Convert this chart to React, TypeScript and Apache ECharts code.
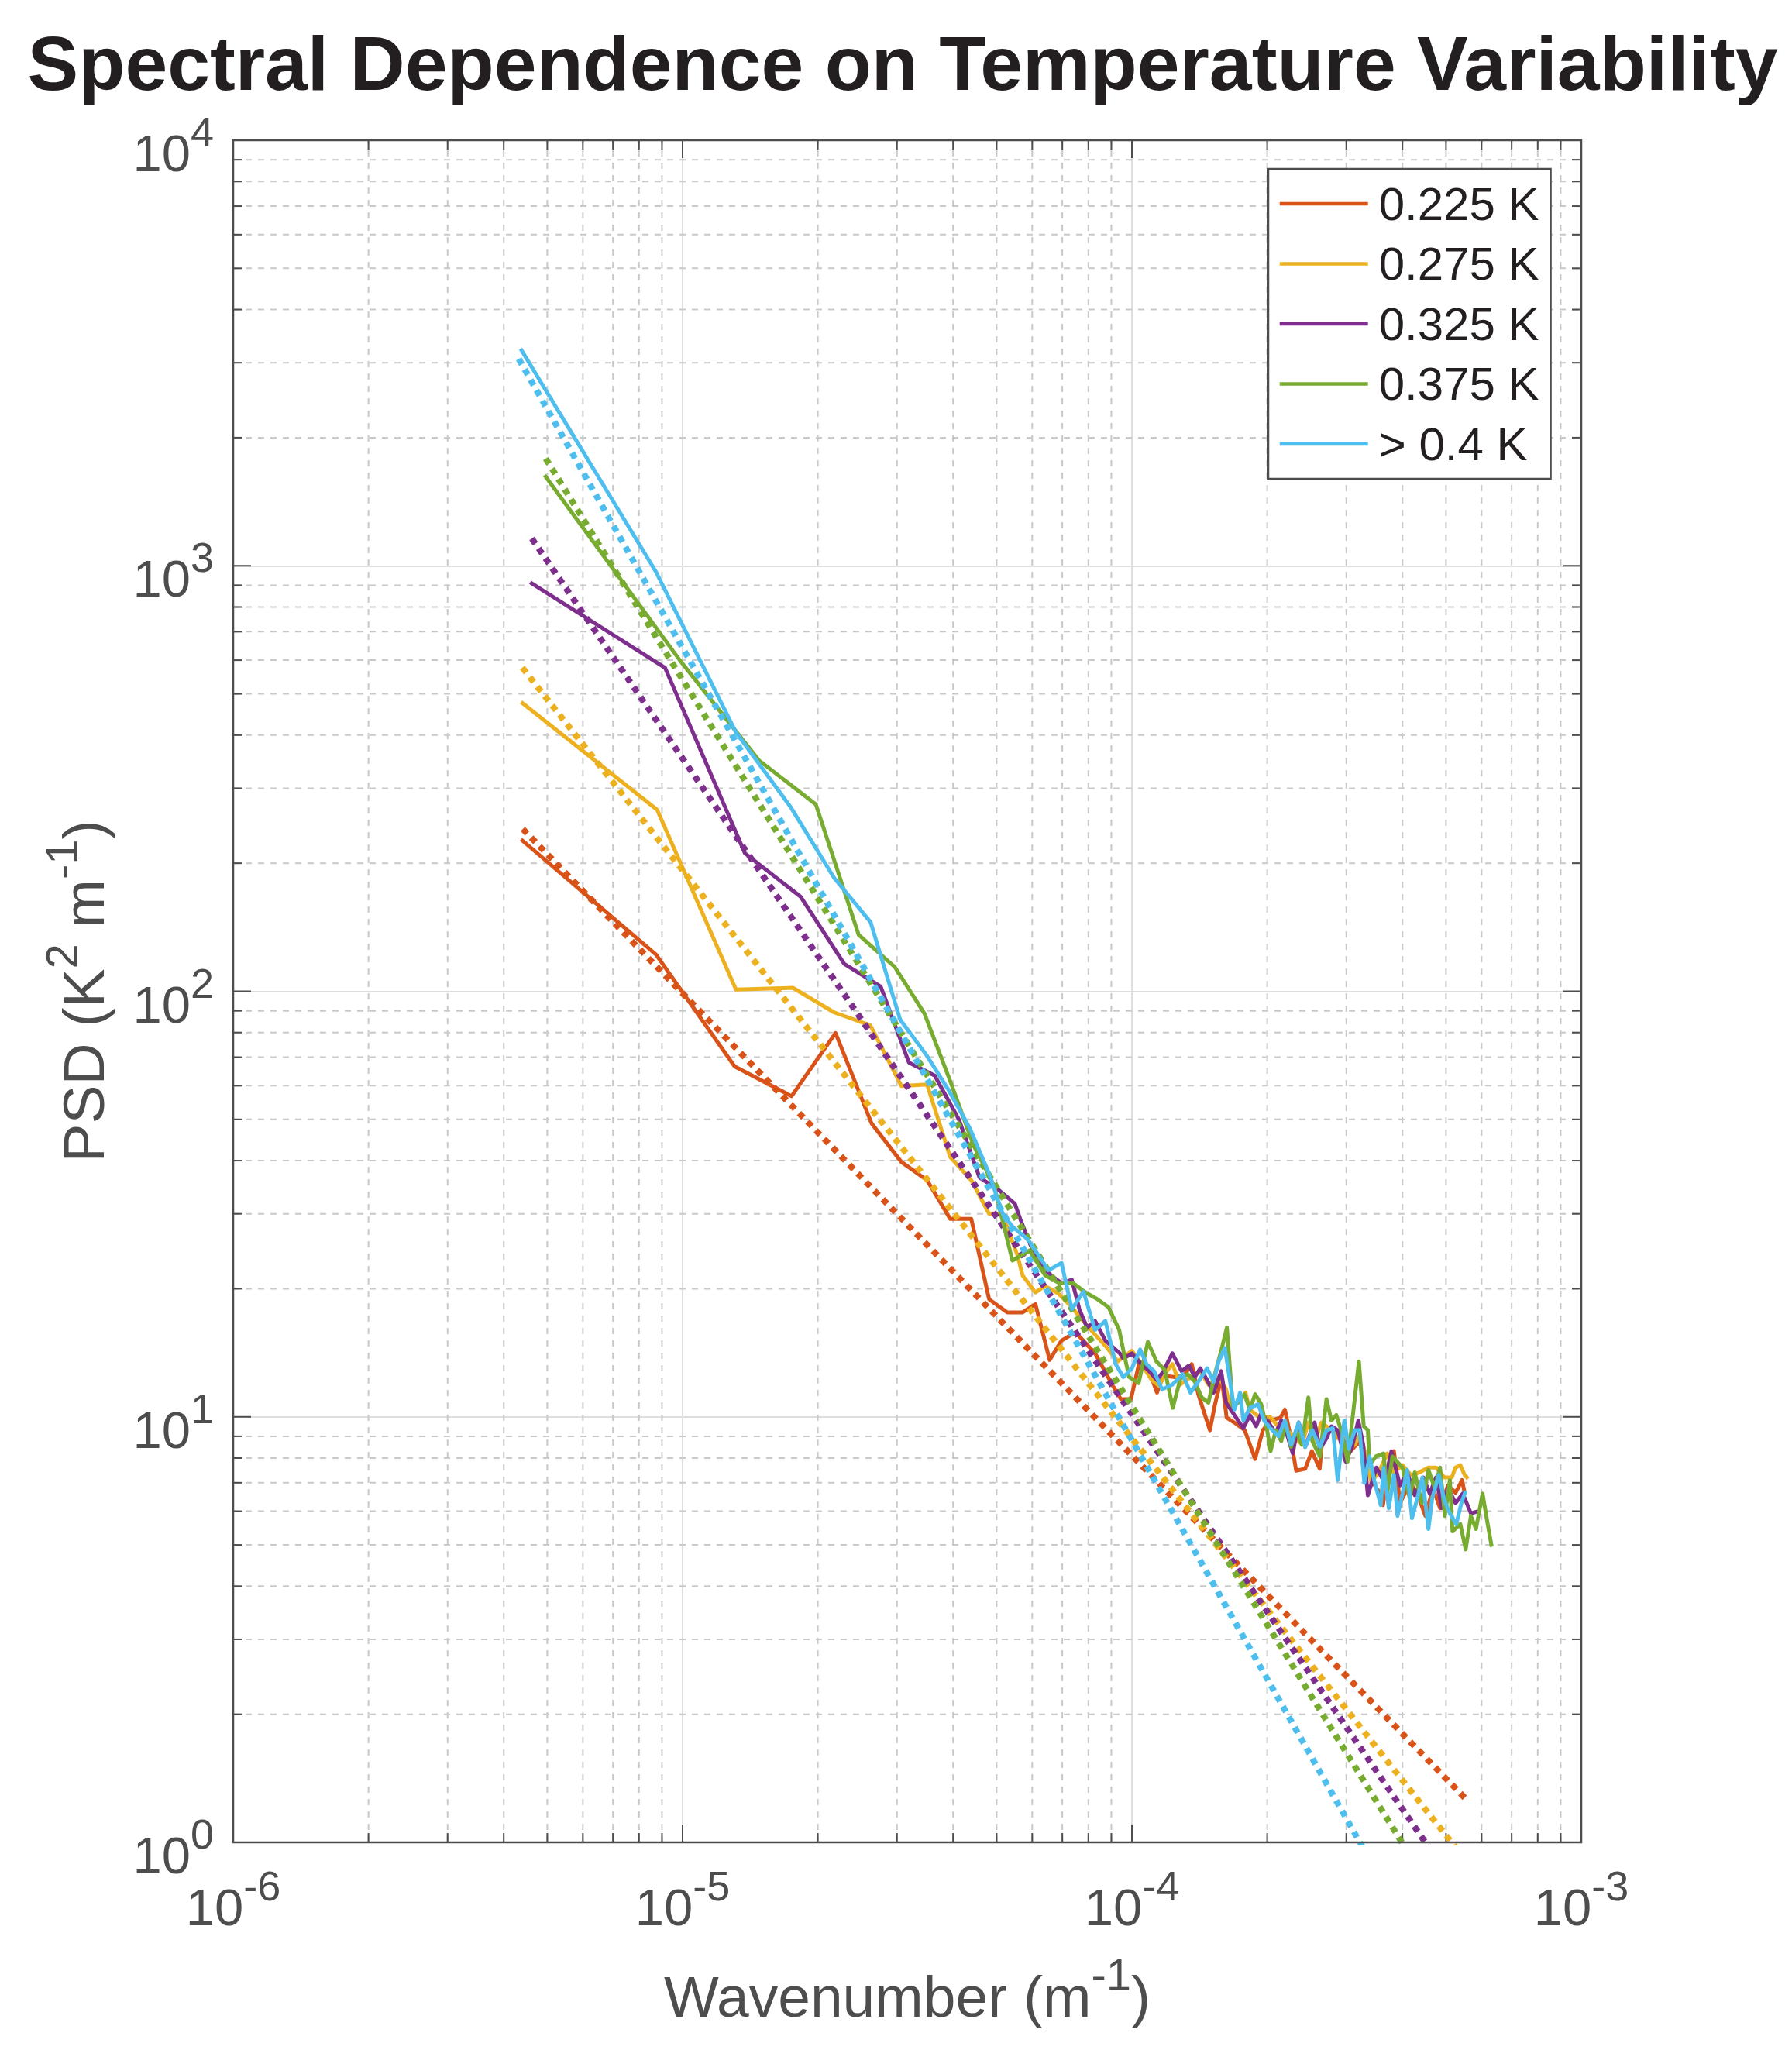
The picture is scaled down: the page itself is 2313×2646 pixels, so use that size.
import React, { useEffect, useRef } from "react";
import * as echarts from "echarts";

const FONT = '"Liberation Sans", Arial, Helvetica, sans-serif';

const seriesNames = ["0.225 K", "0.275 K", "0.325 K", "0.375 K", "> 0.4 K"];
const seriesColors = ["#D95319", "#EDB120", "#7E2F8E", "#77AC30", "#4DBEEE"];

// [wavenumber (1/m), PSD (K^2 m^-1)]
const psd225 = [
  [4.37e-6, 227.6], [8.73e-6, 122], [1.306e-5, 66.6], [1.748e-5, 56.7], [2.19e-5, 79.8],
  [2.635e-5, 48.9], [3.07e-5, 39.7], [3.5e-5, 36], [3.94e-5, 29.2], [4.39e-5, 29.2],
  [4.81e-5, 18.9], [5.28e-5, 17.6], [5.71e-5, 17.6], [6.1e-5, 18.4], [6.56e-5, 13.6],
  [6.97e-5, 15.1], [7.49e-5, 15.8], [8.28e-5, 14.1], [9.08e-5, 11.8], [9.45e-5, 11.0],
  [9.95e-5, 11.0], [1.04e-4, 13.5], [1.093e-4, 12.8], [1.137e-4, 11.4], [1.175e-4, 12.5],
  [1.247e-4, 12.4], [1.306e-4, 12.5], [1.359e-4, 13.3], [1.405e-4, 11.3], [1.491e-4, 9.3],
  [1.531e-4, 10.7], [1.583e-4, 12.4], [1.625e-4, 9.95], [1.69e-4, 9.7], [1.783e-4, 9.3],
  [1.88e-4, 7.96], [1.956e-4, 9.3], [2.035e-4, 9.8], [2.14e-4, 9.95], [2.19e-4, 10.4],
  [2.247e-4, 9.15], [2.32e-4, 7.47], [2.43e-4, 7.55], [2.515e-4, 8.3], [2.617e-4, 7.55],
  [2.65e-4, 8.77], [2.76e-4, 9.3], [2.904e-4, 9.15], [3.067e-4, 8.3], [3.21e-4, 8.77],
  [3.41e-4, 7.1], [3.56e-4, 6.63], [3.62e-4, 6.2], [3.74e-4, 7.85], [3.83e-4, 8.3],
  [3.95e-4, 6.27], [4.16e-4, 7.0], [4.31e-4, 6.63], [4.5e-4, 5.85], [4.68e-4, 6.8],
  [4.85e-4, 6.1], [5.05e-4, 6.9], [5.25e-4, 6.63], [5.43e-4, 7.1], [5.5e-4, 6.63],
];

const psd275 = [
  [4.37e-6, 478.6], [8.78e-6, 267], [1.315e-5, 100.9], [1.76e-5, 101.9], [2.175e-5, 89.2],
  [2.617e-5, 83.2], [3.07e-5, 59.9], [3.5e-5, 60.4], [3.94e-5, 40.8], [4.39e-5, 36.0],
  [4.81e-5, 30.0], [5.14e-5, 30.0], [5.56e-5, 24.0], [5.71e-5, 21.5], [6.1e-5, 19.6],
  [6.4e-5, 20.3], [6.86e-5, 19.5], [7.35e-5, 18.1], [7.64e-5, 17.2], [8.28e-5, 15.6],
  [8.82e-5, 14.5], [9.3e-5, 13.5], [1.0e-4, 14.3], [1.05e-4, 13.3], [1.107e-4, 12.2],
  [1.152e-4, 11.8], [1.18e-4, 12.6], [1.23e-4, 13.3], [1.28e-4, 11.9], [1.35e-4, 12.4],
  [1.42e-4, 12.8], [1.48e-4, 11.9], [1.56e-4, 12.4], [1.62e-4, 11.6], [1.66e-4, 10.4],
  [1.74e-4, 11.0], [1.79e-4, 11.4], [1.83e-4, 10.4], [1.93e-4, 9.95], [2.03e-4, 10.0],
  [2.15e-4, 9.3], [2.26e-4, 9.15], [2.39e-4, 8.6], [2.47e-4, 9.7], [2.55e-4, 8.77],
  [2.64e-4, 9.7], [2.78e-4, 9.3], [2.87e-4, 8.9], [3.02e-4, 8.9], [3.13e-4, 8.6],
  [3.23e-4, 9.15], [3.41e-4, 7.0], [3.56e-4, 7.5], [3.7e-4, 8.2], [3.83e-4, 7.4],
  [4.0e-4, 7.7], [4.18e-4, 7.3], [4.36e-4, 7.4], [4.57e-4, 7.6], [4.75e-4, 7.6],
  [4.96e-4, 7.2], [5.15e-4, 7.2], [5.25e-4, 7.6], [5.38e-4, 7.7], [5.5e-4, 7.3],
  [5.6e-4, 7.15],
];

const psd325 = [
  [4.58e-6, 914], [9.14e-6, 576], [1.377e-5, 211], [1.83e-5, 167], [2.29e-5, 116],
  [2.76e-5, 102.6], [3.19e-5, 68], [3.64e-5, 63.4], [4.12e-5, 50], [4.58e-5, 36.5],
  [5.04e-5, 34.2], [5.49e-5, 31.7], [5.64e-5, 29.2], [5.94e-5, 25.4], [6.27e-5, 22.7],
  [6.61e-5, 21.5], [6.97e-5, 20.6], [7.35e-5, 21.0], [7.64e-5, 17.9], [7.95e-5, 16.2],
  [8.28e-5, 16.8], [8.73e-5, 15.1], [9.4e-5, 14.1], [9.57e-5, 13.7], [1.0e-4, 14.1],
  [1.05e-4, 13.3], [1.093e-4, 12.8], [1.137e-4, 12.2], [1.175e-4, 12.8], [1.23e-4, 14.1],
  [1.29e-4, 12.8], [1.34e-4, 13.2], [1.38e-4, 12.4], [1.42e-4, 13.0], [1.47e-4, 12.2],
  [1.52e-4, 11.4], [1.58e-4, 12.8], [1.62e-4, 10.8], [1.69e-4, 10.1], [1.77e-4, 9.4],
  [1.83e-4, 10.1], [1.89e-4, 9.5], [1.94e-4, 10.2], [2.0e-4, 9.8], [2.09e-4, 9.15],
  [2.15e-4, 9.8], [2.22e-4, 9.0], [2.28e-4, 8.2], [2.35e-4, 9.7], [2.43e-4, 8.5],
  [2.55e-4, 9.7], [2.62e-4, 8.4], [2.71e-4, 8.9], [2.78e-4, 9.5], [2.87e-4, 9.3],
  [2.99e-4, 7.85], [3.09e-4, 8.5], [3.19e-4, 9.8], [3.27e-4, 8.6], [3.35e-4, 6.54],
  [3.5e-4, 7.6], [3.65e-4, 7.0], [3.78e-4, 8.3], [3.95e-4, 6.9], [4.1e-4, 7.4],
  [4.26e-4, 6.54], [4.45e-4, 7.2], [4.6e-4, 6.6], [4.75e-4, 7.2], [4.9e-4, 6.1],
  [5.05e-4, 6.8], [5.25e-4, 6.27], [5.45e-4, 6.6], [5.68e-4, 5.93], [5.9e-4, 6.0],
];

const psd375 = [
  [4.93e-6, 1633], [9.86e-6, 600], [1.479e-5, 349], [1.98e-5, 275], [2.466e-5, 135.7],
  [2.968e-5, 114], [3.455e-5, 88.6], [3.94e-5, 61.6], [4.44e-5, 43.5], [4.93e-5, 35.0],
  [5.42e-5, 23.3], [5.92e-5, 24.6], [6.41e-5, 21.5], [6.9e-5, 20.6], [7.4e-5, 20.6],
  [7.89e-5, 19.6], [8.38e-5, 18.9], [8.87e-5, 18.1], [9.37e-5, 16.0], [9.6e-5, 14.1],
  [9.86e-5, 12.4], [1.035e-4, 12.0], [1.085e-4, 15.0], [1.134e-4, 13.5], [1.183e-4, 12.9],
  [1.233e-4, 10.5], [1.282e-4, 12.3], [1.331e-4, 12.6], [1.38e-4, 12.1], [1.43e-4, 11.1],
  [1.48e-4, 10.8], [1.53e-4, 12.6], [1.58e-4, 14.3], [1.627e-4, 16.2], [1.658e-4, 12.4],
  [1.676e-4, 10.6], [1.725e-4, 10.8], [1.78e-4, 11.3], [1.83e-4, 10.4], [1.88e-4, 11.3],
  [1.94e-4, 10.7], [2.0e-4, 9.3], [2.035e-4, 8.3], [2.09e-4, 9.3], [2.15e-4, 8.77],
  [2.2e-4, 9.7], [2.26e-4, 8.5], [2.32e-4, 9.3], [2.39e-4, 8.6], [2.47e-4, 11.1],
  [2.52e-4, 8.77], [2.62e-4, 8.07], [2.71e-4, 11.0], [2.78e-4, 9.8], [2.85e-4, 10.1],
  [2.92e-4, 9.3], [3.02e-4, 7.85], [3.09e-4, 9.7], [3.2e-4, 13.5], [3.28e-4, 9.5],
  [3.35e-4, 9.3], [3.38e-4, 7.7], [3.49e-4, 8.07], [3.63e-4, 8.2], [3.7e-4, 6.63],
  [3.8e-4, 8.07], [4.0e-4, 7.6], [4.15e-4, 6.45], [4.26e-4, 7.4], [4.42e-4, 6.27],
  [4.57e-4, 7.5], [4.72e-4, 6.8], [4.85e-4, 7.6], [4.97e-4, 5.85], [5.1e-4, 7.1],
  [5.17e-4, 5.38], [5.38e-4, 5.6], [5.53e-4, 4.88], [5.68e-4, 5.85], [5.83e-4, 5.45],
  [6.03e-4, 6.6], [6.19e-4, 5.6], [6.32e-4, 4.95],
];

const psd400 = [
  [4.36e-6, 3237], [8.73e-6, 967], [1.315e-5, 406], [1.744e-5, 270], [2.175e-5, 184.6],
  [2.62e-5, 145.5], [3.05e-5, 85.8], [3.49e-5, 70.8], [3.92e-5, 58.3], [4.36e-5, 47.6],
  [4.8e-5, 37.5], [5.16e-5, 30.0], [5.42e-5, 28.0], [5.87e-5, 26.1], [6.52e-5, 22.1],
  [6.97e-5, 23.0], [7.35e-5, 17.9], [7.8e-5, 19.7], [8.28e-5, 16.0], [8.73e-5, 16.8],
  [9.2e-5, 13.3], [9.57e-5, 12.4], [1.0e-4, 13.0], [1.043e-4, 14.4], [1.078e-4, 13.3],
  [1.12e-4, 12.8], [1.167e-4, 11.6], [1.23e-4, 11.9], [1.297e-4, 12.6], [1.35e-4, 11.4],
  [1.405e-4, 12.1], [1.47e-4, 13.0], [1.52e-4, 12.1], [1.56e-4, 13.5], [1.61e-4, 14.5],
  [1.64e-4, 12.8], [1.69e-4, 10.4], [1.74e-4, 11.4], [1.77e-4, 9.8], [1.83e-4, 10.5],
  [1.91e-4, 10.7], [1.97e-4, 9.8], [2.035e-4, 9.4], [2.12e-4, 9.0], [2.19e-4, 9.8],
  [2.26e-4, 8.6], [2.35e-4, 9.7], [2.43e-4, 8.5], [2.52e-4, 9.3], [2.62e-4, 8.5],
  [2.71e-4, 9.3], [2.8e-4, 9.4], [2.87e-4, 7.1], [2.97e-4, 9.8], [3.04e-4, 8.4],
  [3.13e-4, 9.3], [3.21e-4, 9.3], [3.29e-4, 7.0], [3.38e-4, 8.07], [3.46e-4, 7.1],
  [3.58e-4, 6.2], [3.63e-4, 7.6], [3.73e-4, 6.1], [3.83e-4, 7.3], [3.9e-4, 5.85],
  [4.0e-4, 6.6], [4.1e-4, 7.5], [4.2e-4, 5.78], [4.32e-4, 6.45], [4.43e-4, 7.2],
  [4.57e-4, 5.45], [4.66e-4, 6.45], [4.82e-4, 7.3], [4.96e-4, 6.36], [5.1e-4, 5.93],
  [5.27e-4, 5.6], [5.41e-4, 6.27], [5.53e-4, 6.7],
];

// power-law fits (straight in log-log): start and end points
const fit225 = [[4.41e-6, 240.7], [5.6e-4, 1.249]];
const fit275 = [[4.4e-6, 576], [5.6e-4, 0.893]];
const fit325 = [[4.62e-6, 1159], [5.6e-4, 0.713]];
const fit375 = [[4.96e-6, 1787], [5.6e-4, 0.56]];
const fit400 = [[4.32e-6, 3063], [5.6e-4, 0.356]];

const spectra = [psd225, psd275, psd325, psd375, psd400];
const fits = [fit225, fit275, fit325, fit375, fit400];

const xTickExponents = [-6, -5, -4, -3];
const yTickExponents = [0, 1, 2, 3, 4];
const xTickLabels = xTickExponents.map((e) => `{a|10}{b|${e}}`);
const yTickLabels = yTickExponents.map((e) => `{a|10}{b|${e}}`);
const minorMultipliers = [1, 2, 3, 4, 5, 6, 7, 8, 9];

const X_MIN = 1e-6, X_MAX = 1e-3, Y_MIN = 1, Y_MAX = 1e4;

function tickValues(exps: number[]) {
  const out: number[][] = [];
  for (let i = 0; i < exps.length - 1; i++) {
    for (const m of minorMultipliers) {
      out.push([m * Math.pow(10, exps[i]), m === 1 ? 1 : 0]);
    }
  }
  out.push([Math.pow(10, exps[exps.length - 1]), 1]);
  return out;
}

const AXIS_GRAY = "#4d4d4d";
const MINOR_GRID = "#c9c9c9";
const MAJOR_GRID = "#dedede";

export default function App() {
  const ref = useRef<HTMLDivElement>(null);

  useEffect(() => {
    const chart = echarts.init(ref.current!, null, { renderer: "svg" });

    const xTicks = tickValues(xTickExponents).map((t) => [t[0], 10, t[1]]);
    const yTicks = tickValues(yTickExponents).map((t) => [1e-5, t[0], t[1]]);

    // superscript sits at the top of the line, base text at the bottom
    const tickRich = {
      a: { fontSize: 67, lineHeight: 88, verticalAlign: "bottom", fontFamily: FONT, color: AXIS_GRAY },
      b: { fontSize: 54, lineHeight: 54, verticalAlign: "top", fontFamily: FONT, color: AXIS_GRAY },
    };
    const nameRich = {
      a: { fontSize: 75, lineHeight: 95, verticalAlign: "bottom", fontFamily: FONT, color: AXIS_GRAY },
      s: { fontSize: 58, lineHeight: 58, verticalAlign: "top", fontFamily: FONT, color: AXIS_GRAY },
    };

    const lineSeries: any[] = [];
    spectra.forEach((d, i) => {
      lineSeries.push({
        name: seriesNames[i],
        type: "line",
        data: d,
        symbol: "none",
        showSymbol: false,
        clip: true,
        z: 3 + i * 2,
        itemStyle: { color: seriesColors[i] },
        lineStyle: { color: seriesColors[i], width: 5, join: "round" },
        emphasis: { disabled: true },
      });
      lineSeries.push({
        name: seriesNames[i] + " fit",
        type: "line",
        data: fits[i],
        symbol: "none",
        showSymbol: false,
        clip: true,
        z: 4 + i * 2,
        itemStyle: { color: seriesColors[i] },
        lineStyle: { color: seriesColors[i], width: 8, type: [8, 7.5], cap: "butt" },
        emphasis: { disabled: true },
      });
    });

    const option: any = {
      animation: false,
      backgroundColor: "#ffffff",
      grid: {
        left: 301,
        top: 181,
        width: 1740,
        height: 2197,
        containLabel: false,
        outerBoundsMode: "none",
      },
      graphic: [
        {
          type: "text",
          x: 1165,
          y: 82,
          style: {
            text: "Spectral Dependence on Temperature Variability",
            fill: "#231f20",
            font: `bold 98.5px ${FONT}`,
            lineHeight: 70,
            textAlign: "center",
            align: "center",
            textVerticalAlign: "middle",
            verticalAlign: "middle",
          },
        },
      ],
      legend: {
        data: seriesNames,
        orient: "vertical",
        left: 1637,
        top: 218,
        padding: [15, 15, 15, 14.7],
        itemWidth: 114,
        itemHeight: 4.5,
        itemGap: 17.5,
        icon: "rect",
        selectedMode: false,
        backgroundColor: "#ffffff",
        borderColor: AXIS_GRAY,
        borderWidth: 2.5,
        borderRadius: 0,
        textStyle: {
          fontSize: 60,
          lineHeight: 60,
          color: "#231f20",
          fontFamily: FONT,
          padding: [0, 0, 0, 9],
        },
        z: 30,
      },
      xAxis: {
        type: "log",
        logBase: 10,
        min: X_MIN,
        max: X_MAX,
        axisLine: { show: false },
        axisTick: { show: false },
        splitLine: { show: true, lineStyle: { color: MAJOR_GRID, width: 2 } },
        axisLabel: {
          margin: 29,
          formatter: (v: number) => {
            const idx = xTickExponents.indexOf(Math.round(Math.log10(v)));
            return idx >= 0 ? xTickLabels[idx] : "";
          },
          rich: tickRich,
        },
        name: "{a|Wavenumber (m}{s|-1}{a|)}",
        nameLocation: "middle",
        nameGap: 141,
        nameTextStyle: { rich: nameRich },
      },
      yAxis: {
        type: "log",
        logBase: 10,
        min: Y_MIN,
        max: Y_MAX,
        axisLine: { show: false },
        axisTick: { show: false },
        splitLine: { show: true, lineStyle: { color: MAJOR_GRID, width: 2 } },
        axisLabel: {
          margin: 25,
          padding: [12, 0, 0, 0],
          formatter: (v: number) => {
            const idx = yTickExponents.indexOf(Math.round(Math.log10(v)));
            return idx >= 0 ? yTickLabels[idx] : "";
          },
          rich: tickRich,
        },
        name: "{a|PSD (K}{s|2}{a| m}{s|-1}{a|)}",
        nameLocation: "middle",
        nameGap: 156,
        nameTextStyle: { rich: nameRich },
      },
      series: [
        {
          name: "xgrid",
          type: "custom",
          silent: true,
          z: 1,
          data: xTicks,
          encode: { x: 0, y: 1 },
          renderItem: (params: any, api: any) => {
            const v = api.value(0);
            const major = api.value(2) === 1;
            const b = api.coord([v, Y_MIN]);
            const t = api.coord([v, Y_MAX]);
            const tl = major ? 23 : 12;
            const children: any[] = [];
            if (!major) {
              children.push({
                type: "line",
                shape: { x1: b[0], y1: b[1], x2: t[0], y2: t[1] },
                style: { stroke: MINOR_GRID, lineWidth: 2, lineDash: [8, 8] },
              });
            }
            children.push({
              type: "line",
              shape: { x1: b[0], y1: b[1], x2: b[0], y2: b[1] - tl },
              style: { stroke: AXIS_GRAY, lineWidth: 2 },
            });
            children.push({
              type: "line",
              shape: { x1: t[0], y1: t[1], x2: t[0], y2: t[1] + tl },
              style: { stroke: AXIS_GRAY, lineWidth: 2 },
            });
            return { type: "group", children };
          },
        },
        {
          name: "ygrid",
          type: "custom",
          silent: true,
          z: 1,
          data: yTicks,
          encode: { x: 0, y: 1 },
          renderItem: (params: any, api: any) => {
            const v = api.value(1);
            const major = api.value(2) === 1;
            const l = api.coord([X_MIN, v]);
            const r = api.coord([X_MAX, v]);
            const tl = major ? 23 : 12;
            const children: any[] = [];
            if (!major) {
              children.push({
                type: "line",
                shape: { x1: l[0], y1: l[1], x2: r[0], y2: r[1] },
                style: { stroke: MINOR_GRID, lineWidth: 2, lineDash: [8, 8] },
              });
            }
            children.push({
              type: "line",
              shape: { x1: l[0], y1: l[1], x2: l[0] + tl, y2: l[1] },
              style: { stroke: AXIS_GRAY, lineWidth: 2 },
            });
            children.push({
              type: "line",
              shape: { x1: r[0], y1: r[1], x2: r[0] - tl, y2: r[1] },
              style: { stroke: AXIS_GRAY, lineWidth: 2 },
            });
            return { type: "group", children };
          },
        },
        ...lineSeries,
        {
          name: "frame",
          type: "custom",
          silent: true,
          z: 20,
          data: [[1e-5, 10]],
          encode: { x: 0, y: 1 },
          renderItem: (params: any, api: any) => {
            const tl = api.coord([X_MIN, Y_MAX]);
            const br = api.coord([X_MAX, Y_MIN]);
            return {
              type: "rect",
              shape: { x: tl[0], y: tl[1], width: br[0] - tl[0], height: br[1] - tl[1] },
              style: { fill: "none", stroke: AXIS_GRAY, lineWidth: 2.5 },
            };
          },
        },
      ],
    };

    chart.setOption(option);
    return () => chart.dispose();
  }, []);

  return (
    <div
      ref={ref}
      style={{ position: "absolute", left: 0, top: 0, width: 2313, height: 2646, background: "#ffffff" }}
    />
  );
}
